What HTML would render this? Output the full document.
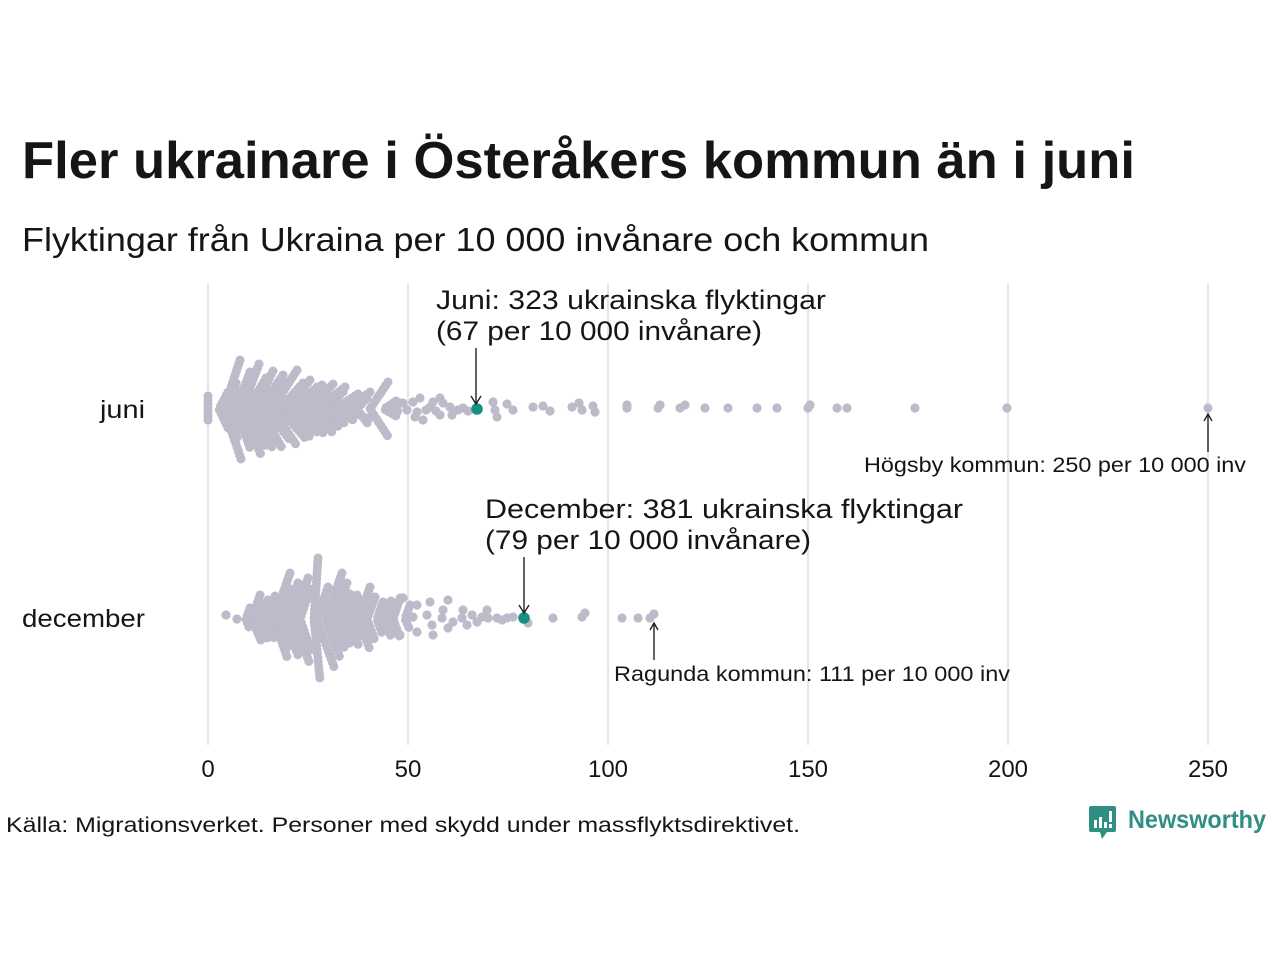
<!DOCTYPE html>
<html>
<head>
<meta charset="utf-8">
<style>
  html,body{margin:0;padding:0;background:#fff;}
  svg{display:block;}
  text{font-family:"Liberation Sans","DejaVu Sans",sans-serif;fill:#151515;}
</style>
</head>
<body>
<svg width="1280" height="960" viewBox="0 0 1280 960" xmlns="http://www.w3.org/2000/svg">
  <rect width="1280" height="960" fill="#fff"/>

  <!-- Title -->
  <text x="22" y="178" font-size="52" font-weight="bold" textLength="1113" lengthAdjust="spacingAndGlyphs" fill="#111">Fler ukrainare i Österåkers kommun än i juni</text>
  <text x="22" y="251" font-size="33" textLength="907" lengthAdjust="spacingAndGlyphs">Flyktingar från Ukraina per 10 000 invånare och kommun</text>

  <!-- Gridlines -->
  <g stroke="#d6d6d6" stroke-width="1.2">
    <line x1="208" y1="284" x2="208" y2="745"/>
    <line x1="408" y1="284" x2="408" y2="745"/>
    <line x1="608" y1="284" x2="608" y2="745"/>
    <line x1="808" y1="284" x2="808" y2="745"/>
    <line x1="1008" y1="284" x2="1008" y2="745"/>
    <line x1="1208" y1="284" x2="1208" y2="745"/>
  </g>

  <!-- Tick labels -->
  <g font-size="24" text-anchor="middle">
    <text x="208" y="777">0</text>
    <text x="408" y="777">50</text>
    <text x="608" y="777">100</text>
    <text x="808" y="777">150</text>
    <text x="1008" y="777">200</text>
    <text x="1208" y="777">250</text>
  </g>

  <!-- Y labels -->
  <text x="100" y="418" font-size="25" textLength="45" lengthAdjust="spacingAndGlyphs">juni</text>
  <text x="22" y="627" font-size="25" textLength="123" lengthAdjust="spacingAndGlyphs">december</text>

  <!-- JUNI swarm -->
  <g stroke="#bdbbc9" stroke-width="9" stroke-linecap="round" stroke-linejoin="round" fill="none" stroke-dasharray="0.01 4">
    <line x1="208" y1="396" x2="208" y2="422"/>
    <polyline points="228,392 219,409 228,428"/>
    <polyline points="240,360 224,409 241,459"/>
    <polyline points="236,383 230,409 237,438"/>
    <polyline points="250,372 236,409 250,448"/>
    <polyline points="259,364 242,409 261,455"/>
    <polyline points="266,378 248,409 266,446"/>
    <polyline points="273,371 254,409 272,447"/>
    <polyline points="283,375 260,409 282,448"/>
    <polyline points="288,382 266,409 290,440"/>
    <polyline points="297,370 272,409 297,446"/>
    <polyline points="303,383 280,409 305,438"/>
    <polyline points="310,380 287,409 310,437"/>
    <polyline points="317,387 294,409 318,433"/>
    <polyline points="322,385 301,409 325,435"/>
    <polyline points="333,384 308,409 332,432"/>
    <polyline points="345,387 316,409 340,428"/>
    <polyline points="343,392 325,409 347,425"/>
    <polyline points="358,394 335,409 353,420"/>
    <polyline points="370,392 347,409 370,420"/>
    <polyline points="367,398 357,409 368,424"/>
    <polyline points="388,382 370,409 389,438"/>
    <polyline points="396,401 384,409 396,416"/>
    <polyline points="400,403 392,409 400,412"/>
  </g>
  <g fill="#bdbbc9">
    <circle cx="403" cy="403" r="4.6"/><circle cx="407" cy="410" r="4.6"/>
    <circle cx="413" cy="402" r="4.6"/><circle cx="417" cy="412" r="4.6"/>
    <circle cx="420" cy="398" r="4.6"/><circle cx="415" cy="417" r="4.6"/>
    <circle cx="423" cy="420" r="4.6"/><circle cx="430" cy="407" r="4.6"/>
    <circle cx="433" cy="402" r="4.6"/><circle cx="440" cy="398" r="4.6"/>
    <circle cx="443" cy="403" r="4.6"/><circle cx="440" cy="415" r="4.6"/>
    <circle cx="426" cy="410" r="4.6"/><circle cx="436" cy="411" r="4.6"/>
    <circle cx="450" cy="407" r="4.6"/><circle cx="452" cy="415" r="4.6"/>
    <circle cx="458" cy="410" r="4.6"/><circle cx="463" cy="408" r="4.6"/>
    <circle cx="468" cy="411" r="4.6"/>
    <circle cx="493" cy="402" r="4.6"/><circle cx="495" cy="410" r="4.6"/>
    <circle cx="497" cy="417" r="4.6"/><circle cx="507" cy="404" r="4.6"/>
    <circle cx="513" cy="410" r="4.6"/><circle cx="533" cy="407" r="4.6"/>
    <circle cx="543" cy="406" r="4.6"/><circle cx="550" cy="411" r="4.6"/>
    <circle cx="572" cy="407" r="4.6"/><circle cx="579" cy="403" r="4.6"/>
    <circle cx="582" cy="410" r="4.6"/><circle cx="593" cy="406" r="4.6"/>
    <circle cx="595" cy="412" r="4.6"/>
    <circle cx="627" cy="405" r="4.6"/><circle cx="627" cy="408" r="4.6"/>
    <circle cx="660" cy="405" r="4.6"/><circle cx="658" cy="408" r="4.6"/>
    <circle cx="680" cy="408" r="4.6"/><circle cx="685" cy="405" r="4.6"/>
    <circle cx="705" cy="408" r="4.6"/><circle cx="728" cy="408" r="4.6"/>
    <circle cx="757" cy="408" r="4.6"/><circle cx="777" cy="408" r="4.6"/>
    <circle cx="810" cy="405" r="4.6"/><circle cx="808" cy="408" r="4.6"/>
    <circle cx="837" cy="408" r="4.6"/><circle cx="847" cy="408" r="4.6"/>
    <circle cx="915" cy="408" r="4.6"/><circle cx="1007" cy="408" r="4.6"/>
    <circle cx="1208" cy="408" r="4.6"/>
  </g>
  <circle cx="477" cy="409" r="5.8" fill="#17907f"/>

  <!-- DECEMBER swarm -->
  <g stroke="#bdbbc9" stroke-width="9" stroke-linecap="round" stroke-linejoin="round" fill="none" stroke-dasharray="0.01 4">
    <polyline points="250,608 246,619 250,630"/>
    <polyline points="260,595 252,619 262,643"/>
    <polyline points="262,604 257,619 262,634"/>
    <polyline points="268,600 261,619 268,640"/>
    <polyline points="275,596 267,619 274,638"/>
    <polyline points="290,573 274,619 288,660"/>
    <polyline points="290,589 280,619 290,649"/>
    <polyline points="298,583 285,619 298,655"/>
    <polyline points="308,578 294,619 309,662"/>
    <polyline points="310,589 300,619 311,651"/>
    <polyline points="318,558 314,619 320,680"/>
    <polyline points="328,587 317,619 334,667"/>
    <polyline points="342,573 326,619 340,658"/>
    <polyline points="347,583 334,619 345,650"/>
    <polyline points="350,594 341,619 350,644"/>
    <polyline points="357,595 349,619 359,647"/>
    <polyline points="359,599 352,619 359,639"/>
    <polyline points="370,587 359,619 370,650"/>
    <polyline points="375,597 367,619 375,641"/>
    <polyline points="383,602 377,619 382,633"/>
    <polyline points="391,601 385,619 391,637"/>
    <polyline points="400,598 393,619 400,638"/>
    <polyline points="410,605 405,619 410,630"/>
  </g>
  <g fill="#bdbbc9">
    <circle cx="226" cy="615" r="4.6"/><circle cx="237" cy="619" r="4.6"/>
    <circle cx="403" cy="598" r="4.6"/><circle cx="407" cy="618" r="4.6"/>
    <circle cx="400" cy="635" r="4.6"/><circle cx="417" cy="605" r="4.6"/>
    <circle cx="413" cy="617" r="4.6"/><circle cx="417" cy="632" r="4.6"/>
    <circle cx="430" cy="602" r="4.6"/><circle cx="427" cy="615" r="4.6"/>
    <circle cx="432" cy="625" r="4.6"/><circle cx="433" cy="635" r="4.6"/>
    <circle cx="448" cy="600" r="4.6"/><circle cx="443" cy="610" r="4.6"/>
    <circle cx="442" cy="618" r="4.6"/><circle cx="448" cy="628" r="4.6"/>
    <circle cx="453" cy="622" r="4.6"/><circle cx="463" cy="610" r="4.6"/>
    <circle cx="462" cy="618" r="4.6"/><circle cx="467" cy="625" r="4.6"/>
    <circle cx="472" cy="615" r="4.6"/><circle cx="477" cy="622" r="4.6"/>
    <circle cx="482" cy="617" r="4.6"/><circle cx="487" cy="610" r="4.6"/>
    <circle cx="488" cy="618" r="4.6"/><circle cx="497" cy="618" r="4.6"/>
    <circle cx="502" cy="620" r="4.6"/><circle cx="507" cy="618" r="4.6"/>
    <circle cx="513" cy="617" r="4.6"/><circle cx="528" cy="623" r="4.6"/>
    <circle cx="553" cy="618" r="4.6"/><circle cx="582" cy="617" r="4.6"/>
    <circle cx="585" cy="613" r="4.6"/><circle cx="622" cy="618" r="4.6"/>
    <circle cx="638" cy="618" r="4.6"/><circle cx="650" cy="618" r="4.6"/>
    <circle cx="654" cy="614" r="4.6"/>
  </g>
  <circle cx="524" cy="618" r="5.8" fill="#17907f"/>

  <!-- Annotations -->
  <g stroke="#222" stroke-width="1.4" fill="none">
    <line x1="476" y1="348" x2="476" y2="404"/>
    <polyline points="471,396 476,404 481,396"/>
    <line x1="524" y1="557" x2="524" y2="613"/>
    <polyline points="519,605 524,613 529,605"/>
    <line x1="1208" y1="452" x2="1208" y2="414"/>
    <polyline points="1204,421 1208,414 1212,421"/>
    <line x1="654" y1="660" x2="654" y2="623"/>
    <polyline points="650,630 654,623 658,630"/>
  </g>
  <text x="436" y="309" font-size="27" textLength="390" lengthAdjust="spacingAndGlyphs">Juni: 323 ukrainska flyktingar</text>
  <text x="436" y="340" font-size="27" textLength="326" lengthAdjust="spacingAndGlyphs">(67 per 10 000 invånare)</text>
  <text x="485" y="518" font-size="27" textLength="478" lengthAdjust="spacingAndGlyphs">December: 381 ukrainska flyktingar</text>
  <text x="485" y="549" font-size="27" textLength="326" lengthAdjust="spacingAndGlyphs">(79 per 10 000 invånare)</text>
  <text x="864" y="472" font-size="21" textLength="382" lengthAdjust="spacingAndGlyphs">Högsby kommun: 250 per 10 000 inv</text>
  <text x="614" y="681" font-size="21" textLength="396" lengthAdjust="spacingAndGlyphs">Ragunda kommun: 111 per 10 000 inv</text>

  <!-- Source -->
  <text x="6" y="832" font-size="21" textLength="794" lengthAdjust="spacingAndGlyphs">Källa: Migrationsverket. Personer med skydd under massflyktsdirektivet.</text>

  <!-- Logo -->
  <g>
    <path d="M1091,806 H1114 Q1116,806 1116,808 V830 Q1116,832 1114,832 H1107 L1102,839 L1100,832 H1091 Q1089,832 1089,830 V808 Q1089,806 1091,806 Z" fill="#2f8f82"/>
    <rect x="1094" y="820" width="3" height="8" fill="#fff"/>
    <rect x="1099" y="817" width="3" height="11" fill="#fff"/>
    <rect x="1104" y="822" width="3" height="6" fill="#fff"/>
    <rect x="1109" y="811" width="3" height="11" fill="#fff"/>
    <rect x="1109" y="824" width="3" height="4" fill="#fff"/>
  </g>
  <text x="1128" y="828" font-size="25" font-weight="bold" fill="#2f8f82" style="fill:#2f8f82" textLength="138" lengthAdjust="spacingAndGlyphs">Newsworthy</text>
</svg>
</body>
</html>
